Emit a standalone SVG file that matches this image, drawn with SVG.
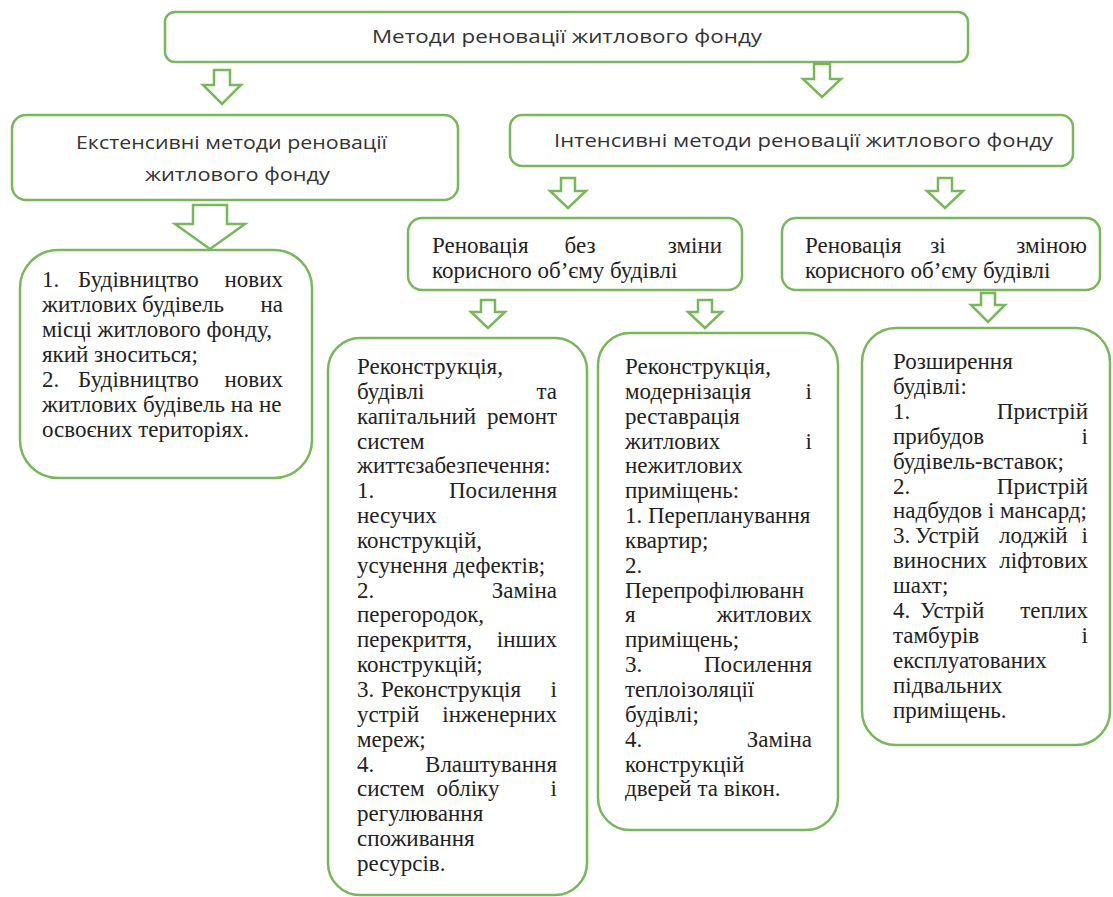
<svg xmlns="http://www.w3.org/2000/svg" width="1113" height="897" viewBox="0 0 1113 897">
<style>
.box{fill:#fff;stroke:#79b75c;stroke-width:2.5}
.arrow{fill:#fff;stroke:#79b75c;stroke-width:2.5;stroke-linejoin:miter}
.s{font-family:"Open Sans","Noto Sans","Liberation Sans",sans-serif;font-size:18px;fill:#333}
.t{font-family:"Liberation Serif","Times New Roman",serif;font-size:23px;fill:#222}
.e{text-anchor:end}
.m{text-anchor:middle}
</style>
<rect width="1113" height="897" fill="#fff"/>
<g id="connectors">
<path class="arrow" d="M214,70 H230 V85 H241 L222,104 L203,85 H214 Z"/>
<path class="arrow" d="M814,64 H830 V79 H841 L822,97 L803,79 H814 Z"/>
<path class="arrow" d="M193,205 H227 V224 H245 L210,249 L175,224 H193 Z"/>
<path class="arrow" d="M561,178 H575 V191 H586 L568,208 L550,191 H561 Z"/>
<path class="arrow" d="M938,178 H952 V191 H963 L945,208 L927,191 H938 Z"/>
<path class="arrow" d="M481,300 H495 V312 H505 L488,328 L471,312 H481 Z"/>
<path class="arrow" d="M698,300 H712 V312 H722 L705,328 L688,312 H698 Z"/>
<path class="arrow" d="M981,293 H995 V305 H1005 L988,322 L971,305 H981 Z"/>
</g>
<g id="n-top">
<rect class="box" x="165" y="12" width="803" height="50" rx="10"/>
<text class="s" x="372" y="43" textLength="390" lengthAdjust="spacingAndGlyphs">Методи реновації житлового фонду</text>
</g>
<g id="n-ext">
<rect class="box" x="12" y="115" width="446" height="85" rx="14"/>
<text class="s" x="76" y="149" textLength="311" lengthAdjust="spacingAndGlyphs">Екстенсивні методи реновації</text>
<text class="s" x="145" y="181" textLength="185" lengthAdjust="spacingAndGlyphs">житлового фонду</text>
</g>
<g id="n-int">
<rect class="box" x="510" y="115" width="563" height="51" rx="12"/>
<text class="s" x="554" y="147" textLength="499" lengthAdjust="spacingAndGlyphs">Інтенсивні методи реновації житлового фонду</text>
</g>
<g id="n-bez">
<rect class="box" x="408" y="218" width="334" height="72" rx="14"/>
<text class="t" x="432" y="253">Реновація</text>
<text class="t m" x="580" y="253">без</text>
<text class="t e" x="722" y="253">зміни</text>
<text class="t" x="432" y="278">корисного об’єму будівлі</text>
</g>
<g id="n-zi">
<rect class="box" x="782" y="218" width="318" height="72" rx="14"/>
<text class="t" x="805" y="253">Реновація</text>
<text class="t m" x="938" y="253">зі</text>
<text class="t e" x="1087" y="253">зміною</text>
<text class="t" x="805" y="278">корисного об’єму будівлі</text>
</g>
<g id="n-ext-list">
<rect class="box" x="20" y="250" width="292" height="228" rx="38"/>
<text class="t" x="42" y="287">1.</text><text class="t" x="78" y="287">Будівництво</text><text class="t e" x="283" y="287">нових</text>
<text class="t" x="42" y="312">житлових</text><text class="t m" x="183" y="312">будівель</text><text class="t e" x="283" y="312">на</text>
<text class="t" x="42" y="337">місці житлового фонду,</text>
<text class="t" x="42" y="362">який зноситься;</text>
<text class="t" x="42" y="387">2.</text><text class="t" x="78" y="387">Будівництво</text><text class="t e" x="283" y="387">нових</text>
<text class="t" x="42" y="412">житлових будівель на не</text>
<text class="t" x="42" y="437">освоєних територіях.</text>
</g>
<g id="n-recon">
<rect class="box" x="328" y="338" width="259" height="557" rx="32"/>
<text class="t" x="357" y="374">Реконструкція,</text>
<text class="t" x="357" y="399">будівлі</text><text class="t e" x="557" y="399">та</text>
<text class="t" x="357" y="424">капітальний</text><text class="t e" x="557" y="424">ремонт</text>
<text class="t" x="357" y="449">систем</text>
<text class="t" x="357" y="473">життєзабезпечення:</text>
<text class="t" x="357" y="498">1.</text><text class="t e" x="557" y="498">Посилення</text>
<text class="t" x="357" y="523">несучих</text>
<text class="t" x="357" y="548">конструкцій,</text>
<text class="t" x="357" y="573">усунення дефектів;</text>
<text class="t" x="357" y="598">2.</text><text class="t e" x="557" y="598">Заміна</text>
<text class="t" x="357" y="622">перегородок,</text>
<text class="t" x="357" y="647">перекриття,</text><text class="t e" x="557" y="647">інших</text>
<text class="t" x="357" y="672">конструкцій;</text>
<text class="t" x="357" y="697">3.</text><text class="t m" x="451" y="697">Реконструкція</text><text class="t e" x="557" y="697">і</text>
<text class="t" x="357" y="722">устрій</text><text class="t e" x="557" y="722">інженерних</text>
<text class="t" x="357" y="747">мереж;</text>
<text class="t" x="357" y="772">4.</text><text class="t e" x="557" y="772">Влаштування</text>
<text class="t" x="357" y="796">систем</text><text class="t m" x="468" y="796">обліку</text><text class="t e" x="557" y="796">і</text>
<text class="t" x="357" y="821">регулювання</text>
<text class="t" x="357" y="846">споживання</text>
<text class="t" x="357" y="871">ресурсів.</text>
</g>
<g id="n-modern">
<rect class="box" x="598" y="333" width="240" height="497" rx="32"/>
<text class="t" x="625" y="374">Реконструкція,</text>
<text class="t" x="625" y="399">модернізація</text><text class="t e" x="812" y="399">і</text>
<text class="t" x="625" y="424">реставрація</text>
<text class="t" x="625" y="449">житлових</text><text class="t e" x="812" y="449">і</text>
<text class="t" x="625" y="473">нежитлових</text>
<text class="t" x="625" y="498">приміщень:</text>
<text class="t" x="625" y="523">1. Перепланування</text>
<text class="t" x="625" y="548">квартир;</text>
<text class="t" x="625" y="573">2.</text>
<text class="t" x="625" y="598">Перепрофілюванн</text>
<text class="t" x="625" y="622">я</text><text class="t e" x="812" y="622">житлових</text>
<text class="t" x="625" y="647">приміщень;</text>
<text class="t" x="625" y="672">3.</text><text class="t e" x="812" y="672">Посилення</text>
<text class="t" x="625" y="697">теплоізоляції</text>
<text class="t" x="625" y="722">будівлі;</text>
<text class="t" x="625" y="747">4.</text><text class="t e" x="812" y="747">Заміна</text>
<text class="t" x="625" y="772">конструкцій</text>
<text class="t" x="625" y="796">дверей та вікон.</text>
</g>
<g id="n-expand">
<rect class="box" x="862" y="328" width="248" height="417" rx="34"/>
<text class="t" x="893" y="369">Розширення</text>
<text class="t" x="893" y="394">будівлі:</text>
<text class="t" x="893" y="419">1.</text><text class="t e" x="1088" y="419">Пристрій</text>
<text class="t" x="893" y="444">прибудов</text><text class="t e" x="1088" y="444">і</text>
<text class="t" x="893" y="469">будівель-вставок;</text>
<text class="t" x="893" y="494">2.</text><text class="t e" x="1088" y="494">Пристрій</text>
<text class="t" x="893" y="518">надбудов і мансард;</text>
<text class="t" x="893" y="543">3.</text><text class="t" x="915" y="543">Устрій</text><text class="t" x="999" y="543">лоджій</text><text class="t e" x="1088" y="543">і</text>
<text class="t" x="893" y="568">виносних</text><text class="t e" x="1088" y="568">ліфтових</text>
<text class="t" x="893" y="593">шахт;</text>
<text class="t" x="893" y="618">4.</text><text class="t" x="920" y="618">Устрій</text><text class="t e" x="1088" y="618">теплих</text>
<text class="t" x="893" y="643">тамбурів</text><text class="t e" x="1088" y="643">і</text>
<text class="t" x="893" y="668">експлуатованих</text>
<text class="t" x="893" y="693">підвальних</text>
<text class="t" x="893" y="718">приміщень.</text>
</g>
</svg>
